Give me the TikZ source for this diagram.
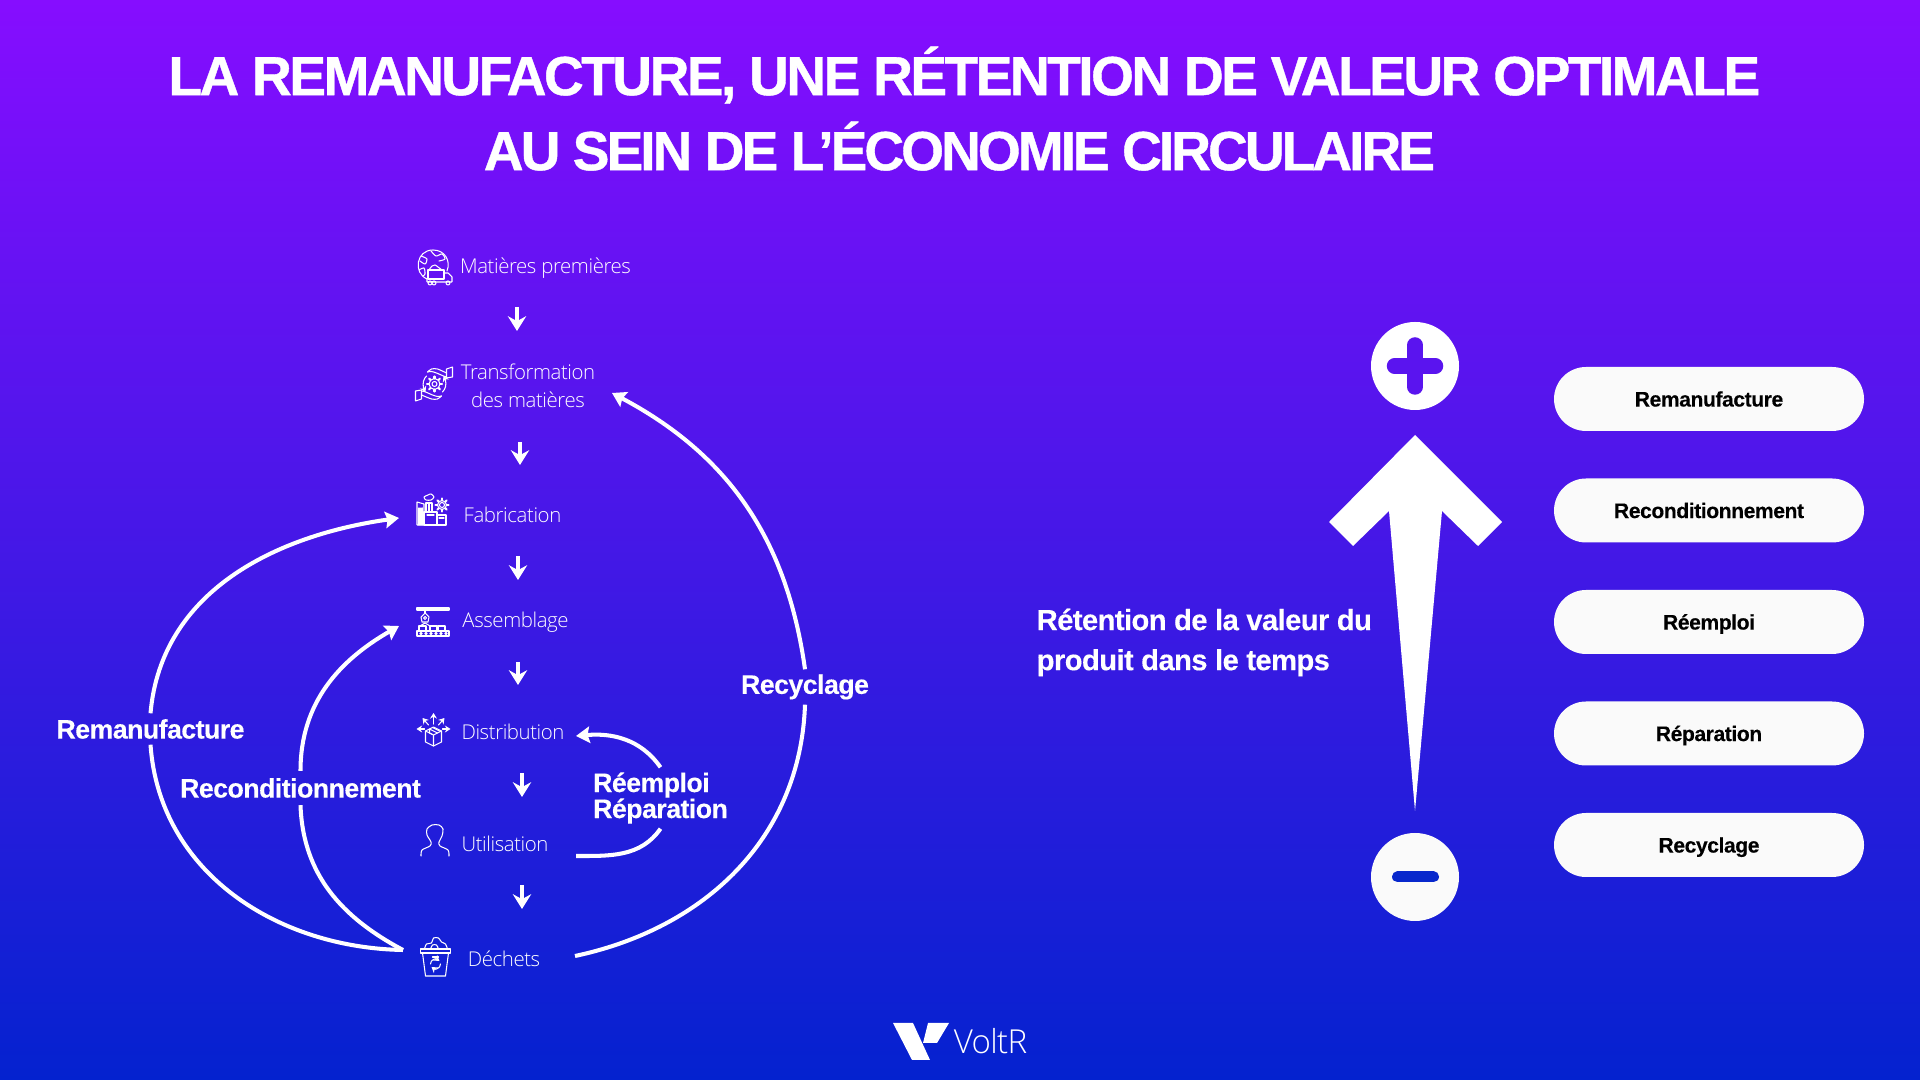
\documentclass[tikz,border=0pt]{standalone}
\usepackage{fontspec}
\setmainfont{Liberation Sans}
\newfontfamily\lightfont[LetterSpace=-2]{Open Sans Light}
\newfontfamily\titlefont[LetterSpace=-4.7,FakeBold=0.7]{Liberation Sans}
\newfontfamily\titlefontb[LetterSpace=-5.5,FakeBold=0.7]{Liberation Sans}
\newfontfamily\labelfont[LetterSpace=-2,FakeBold=0.25]{Liberation Sans}
\usetikzlibrary{arrows.meta}
\definecolor{topviolet}{RGB}{134,13,255}
\definecolor{botblue}{RGB}{4,34,207}
\definecolor{pillgrey}{RGB}{250,250,250}
\tikzset{
  steplabel/.style={text=white,font=\lightfont\fontsize{5.8}{8.1}\selectfont,inner sep=0,align=center},
  flowlabel/.style={text=white,font=\labelfont\bfseries\fontsize{7.6}{7.4}\selectfont,inner sep=0,align=left},
  flowline/.style={white,line width=1.15pt},
  flowtip/.style={flowline,-{Stealth[length=3.9pt,width=4.7pt,inset=0.6pt]}},
  downarrow/.style={white,line width=1.1pt,-{Stealth[length=4.2pt,width=5.2pt,inset=1.4pt]}},
  pill/.style={fill=pillgrey,rounded corners=0.32cm,minimum width=3.1cm,minimum height=0.64cm,inner sep=0,
    text height=5.8pt,text depth=1.5pt,text=black,font=\labelfont\bfseries\fontsize{6}{7}\selectfont},
  iconline/.style={white,line width=0.3pt,line join=round,line cap=round},
  icontip/.style={iconline,-{Stealth[length=1.6pt,width=2pt]}},
  icon/.style={shift={(#1)},x=0.01cm,y=-0.01cm}
}
\begin{document}
\begin{tikzpicture}
    \useasboundingbox (0,0) rectangle (19.2,10.8);
    \shade[top color=topviolet,bottom color=botblue] (0,0) rectangle (19.2,10.8);

    %title
    \node (title1) [text=white,inner sep=0,font=\titlefont\bfseries\fontsize{15.7}{21.3}\selectfont] at (9.643,10.05) {LA REMANUFACTURE, UNE RÉTENTION DE VALEUR OPTIMALE};
    \node (title2) [text=white,inner sep=0,font=\titlefontb\bfseries\fontsize{15.7}{21.3}\selectfont] at (9.594,9.34) {AU SEIN DE L’ÉCONOMIE CIRCULAIRE};

    %steps
    \node (mp) [steplabel,anchor=base] at (5.455,8.06) {Matières premières};
    \node (trans) [steplabel] at (5.28,6.94) {Transformation\\des matières};
    \node (fab) [steplabel,anchor=base] at (5.125,5.57) {Fabrication};
    \node (ass) [steplabel,anchor=base] at (5.155,4.52) {Assemblage};
    \node (dist) [steplabel,anchor=base] at (5.13,3.40) {Distribution};
    \node (util) [steplabel,anchor=base] at (5.05,2.28) {Utilisation};
    \node (dech) [steplabel,anchor=base] at (5.04,1.13) {Déchets};

    \foreach \n/\x/\ya/\yb in {1/5.17/7.73/7.49,2/5.20/6.38/6.15,3/5.18/5.24/5.00,4/5.18/4.18/3.95,5/5.22/3.07/2.83,6/5.22/1.95/1.71}{
      \coordinate (ar\n a) at (\x,\ya);
      \coordinate (ar\n b) at (\x,\yb);
      \draw[downarrow] (ar\n a) -- (ar\n b);
    }

    %loops
    \node (rema) [flowlabel,minimum height=0.30cm] at (1.505,3.51) {Remanufacture};
    \node (recond) [flowlabel,minimum height=0.33cm] at (3.005,2.92) {Reconditionnement};
    \node (recyc) [flowlabel,minimum height=0.34cm] at (8.05,3.93) {Recyclage};
    \node (reem) [flowlabel,minimum height=0.60cm] at (6.605,2.82) {Réemploi\\Réparation};

    \coordinate (fab in) at (3.99,5.62);
    \coordinate (ass in) at (3.99,4.54);
    \coordinate (trans in) at (6.12,6.87);
    \coordinate (dist in) at (5.76,3.44);
    \coordinate (util out) at (5.76,2.24);
    \coordinate (dech left) at (4.03,1.30);
    \coordinate (dech right) at (5.75,1.24);

    \draw[flowtip] (rema.north) to [out=85,in=-172] (fab in);
    \draw[flowline] (rema.south) to [out=-86,in=179] (dech left);
    \draw[flowtip] (recond.north) to [out=90,in=-150] (ass in);
    \draw[flowline] (recond.south) to [out=-88,in=152] (dech left);
    \draw[flowtip] (recyc.north) to [out=98,in=-28] (trans in);
    \draw[flowline] (recyc.south) to [out=-92,in=12] (dech right);
    \draw[flowtip] (reem.north) to [out=125,in=5] (dist in);
    \draw[flowline] (reem.south) to [out=-125,in=0] (util out);

    %value arrow
    \node (plus) [circle,fill=white,minimum size=0.88cm,inner sep=0] at (14.15,7.14) {};
    \node (minus) [circle,fill=pillgrey,minimum size=0.88cm,inner sep=0] at (14.15,2.03) {};
    \draw[color={rgb,255:red,90;green,20;blue,239},line width=0.155cm,line cap=round] (13.945,7.14) -- (14.355,7.14);
    \draw[color={rgb,255:red,90;green,20;blue,239},line width=0.155cm,line cap=round] (14.15,7.35) -- (14.15,6.93);
    \draw[color={rgb,255:red,8;green,40;blue,204},line width=0.11cm,line cap=round] (13.975,2.03) -- (14.335,2.03);
    \fill[white] (14.15,6.45) -- (15.02,5.58) -- (14.78,5.34) -- (14.42,5.69) -- (14.15,2.69) -- (13.89,5.69) -- (13.53,5.34) -- (13.29,5.58) -- cycle;
    \node (reten) [text=white,align=left,inner sep=0,anchor=west,font=\labelfont\bfseries\fontsize{8.3}{11.4}\selectfont] at (10.36,4.375) {Rétention de la valeur du\\produit dans le temps};

    %pills
    \node (p1) [pill] at (17.09,6.81) {Remanufacture};
    \node (p2) [pill] at (17.09,5.695) {Reconditionnement};
    \node (p3) [pill] at (17.09,4.58) {Réemploi};
    \node (p4) [pill] at (17.09,3.465) {Réparation};
    \node (p5) [pill] at (17.09,2.35) {Recyclage};

    %logo
    \fill[white] (8.93,0.57) -- (9.13,0.57) -- (9.30,0.20) -- (9.12,0.20) -- cycle;
    \fill[white] (9.28,0.57) -- (9.49,0.57) -- (9.37,0.37) -- (9.23,0.37) -- cycle;
    \node (voltr) [text=white,inner sep=0,font=\lightfont\fontsize{9.4}{10}\selectfont] at (9.905,0.385) {VoltR};

    %icons
    \begin{scope}[icon={4.33,8.15}]
      \draw[iconline] (-6,14) .. controls (-20,8) and (-17,-15) .. (0,-15) .. controls (12,-15) and (18,-4) .. (14,6);
      \draw[iconline] plot[smooth] coordinates {(-12,-9) (-6,-6) (-8,-1) (-13,-4)};
      \draw[iconline] plot[smooth] coordinates {(-2,-14) (3,-9) (9,-11) (12,-6) (6,-4)};
      \draw[iconline] plot[smooth] coordinates {(-14,5) (-9,3) (-8,9) (-10,11)};
      \draw[iconline] (-5,5) rectangle (11,14);
      \draw[iconline] plot[smooth] coordinates {(-4,5) (-1,1) (2,0) (5,2) (9,5)};
      \draw[iconline] (11,8) -- (15,8) -- (19,12) -- (19,17) -- (-6,17) -- (-6,14);
      \draw[iconline] (-3,18) circle (2) (1,18) circle (2) (15,18) circle (2);
    \end{scope}
    \begin{scope}[icon={4.345,6.96}]
      \draw[iconline] (0,0) circle (2.5) (0,0) circle (5.5);
      \foreach \a in {0,45,...,315}{\draw[iconline,line width=0.6pt] (\a:5.5) -- (\a:7.5);}
      \draw[iconline] (-11,4) .. controls (-12,-1) and (-11,-5) .. (-8,-8);
      \draw[icontip] (-11,4) -- (-9,8);
      \draw[iconline] (11,-4) .. controls (12,1) and (11,5) .. (8,8);
      \draw[icontip] (11,-4) -- (9,-8);
      \draw[iconline] plot[smooth] coordinates {(-7,-12) (-3,-15) (3,-15) (12,-11)};
      \draw[iconline] plot[smooth] coordinates {(-7,-12) (-3,-12.5) (2,-11) (9,-8) (12,-7)};
      \draw[iconline] (12,-15) -- (18,-17) -- (18,-7) -- (12,-6) -- cycle;
      \draw[iconline] plot[smooth] coordinates {(7,12) (3,15) (-3,15) (-13,11)};
      \draw[iconline] plot[smooth] coordinates {(7,12) (3,12.5) (-2,11) (-9,8) (-13,7)};
      \draw[iconline] (-13,15) -- (-19,17) -- (-19,7) -- (-13,6) -- cycle;
    \end{scope}
    \begin{scope}[icon={4.33,5.70}]
      \draw[iconline] (-16,15) -- (-16,-8) -- (-9,-6) -- (-9,15) -- cycle;
      \foreach \x in {-14,-12,-10.5}{\draw[iconline] (\x,-2) -- (\x,15);}
      \draw[iconline] (-9,15) rectangle (4,2);
      \draw[iconline] (-6,5) -- (1,5);
      \draw[iconline] (4,15) rectangle (13,5);
      \draw[iconline] (6,8) -- (11,8);
      \draw[iconline] (-7,2) -- (-7,-7) -- (-1,-7) -- (-1,2);
      \draw[iconline] (-4,-6) -- (-4,2);
      \draw[iconline] plot[smooth cycle] coordinates {(-7,-10) (-9,-13) (-5,-15) (-2,-16) (1,-13) (-2,-10)};
      \draw[iconline] (9,-5) circle (2.5) (9,-5) circle (4.5);
      \foreach \a in {0,45,...,315}{\draw[iconline,line width=0.6pt,shift={(9,-5)}] (\a:4.5) -- (\a:6.5);}
    \end{scope}
    \begin{scope}[icon={4.33,4.58}]
      \draw[iconline] (-16,-14) rectangle (16,-12);
      \draw[iconline] (-8,-12) -- (-8,-9);
      \draw[iconline] (-12,-5) -- (-8,-9) -- (-4,-5) -- (-5,0) -- (-11,0) -- cycle;
      \draw[iconline] (-8,-4) circle (1.5);
      \draw[iconline] (-16,9) rectangle (16,14);
      \foreach \x in {-12,-7,...,13}{\draw[iconline] (\x,11.5) circle (1.2);}
      \foreach \x in {-14,-3,5}{\draw[iconline] (\x,9) -- (\x,4) -- (\x+7,4) -- (\x+7,9);}
      \draw[iconline] (-13,4) -- (-8,1) -- (-3,4);
    \end{scope}
    \begin{scope}[icon={4.335,3.50}]
      \draw[iconline] (0,-3) -- (8,1) -- (8,12) -- (0,16) -- (-8,12) -- (-8,1) -- cycle;
      \draw[iconline] (-8,1) -- (0,5) -- (8,1) (0,5) -- (0,16);
      \draw[iconline] (-4,-1) -- (4,3) (-1,-2.5) -- (7,1.5) (-4,-1) -- (-4,3) -- (-1,4.5);
      \foreach \x/\y/\u/\v in {0/-6/0/-17,-9/-1/-17/-1,9/-1/17/-1,-5/-5/-11/-12,5/-5/11/-12}{
        \draw[icontip] (\x,\y) -- (\u,\v);
      }
    \end{scope}
    \begin{scope}[icon={4.35,2.40}]
      \draw[iconline] plot[smooth] coordinates {(-14,16) (-13,10) (-5,6) (-4,2) (-8,-5) (-8,-11) (-3,-15) (4,-15) (8,-11) (7,-4) (4,2) (5,6) (13,10) (14,16)};
    \end{scope}
    \begin{scope}[icon={4.355,1.23}]
      \draw[iconline] (-15,-8) rectangle (15,-4);
      \draw[iconline] (-13,-4) -- (-10,19) -- (10,19) -- (13,-4);
      \draw[iconline] plot[smooth] coordinates {(-11,-8) (-9,-13) (-4,-14) (-2,-19) (3,-19) (6,-15) (10,-13) (12,-8)};
      \draw[iconline] plot[smooth] coordinates {(-5,-8) (-3,-12) (1,-12) (3,-8)};
      \draw[iconline] (-3,0) -- (3,0);
      \draw[icontip] (-5,7) .. controls (-5,3) and (0,1) .. (4,4);
      \draw[icontip] (5,7) .. controls (5,11) and (0,13) .. (-4,10);
    \end{scope}
\end{tikzpicture}
\end{document}
